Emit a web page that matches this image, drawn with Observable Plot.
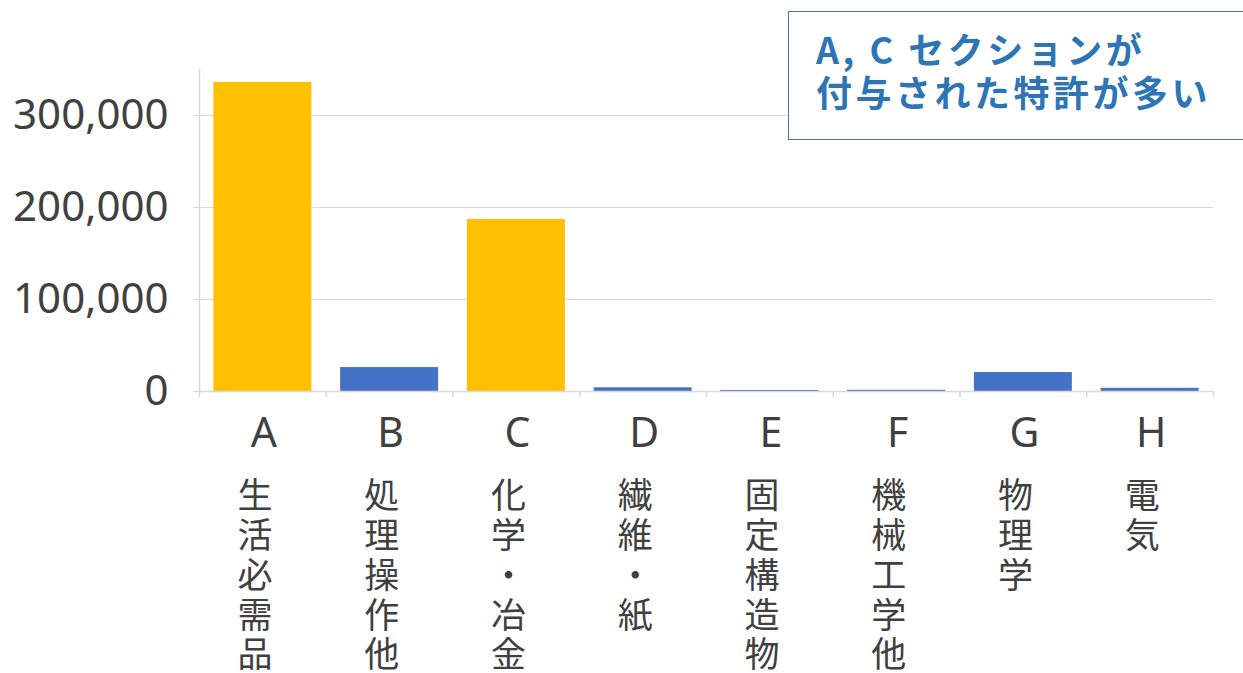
<!DOCTYPE html>
<html>
<head>
<meta charset="utf-8">
<script src="https://cdn.jsdelivr.net/npm/d3@7"></script>
<script src="https://cdn.jsdelivr.net/npm/@observablehq/plot@0.6"></script>
<style>
  html, body { margin: 0; padding: 0; background: #fff; }
  #wrap { position: relative; width: 1243px; height: 673px; overflow: hidden; }
  #note {
    position: absolute; left: 788px; top: 11px; width: 480px; height: 127px;
    border: 1.5px solid #4472C4; background: #fff; box-sizing: content-box;
    font-family: "Noto Sans CJK JP", "Noto Sans", sans-serif; font-weight: bold;
    font-size: 36px; line-height: 43px; color: #2E75B6; letter-spacing: 3.5px;
  }
  #note div { position: absolute; left: 27px; top: 15px; white-space: nowrap; }
</style>
</head>
<body>
<div id="wrap">
  <div id="chart"></div>
  <div id="note"><div>A, C セクションが<br>付与された特許が多い</div></div>
</div>
<script>
const categories = ["A", "B", "C", "D", "E", "F", "G", "H"];
const sectionNames = ["生活必需品", "処理操作他", "化学・冶金", "繊維・紙", "固定構造物", "機械工学他", "物理学", "電気"];
const patentCounts = [336000, 26000, 187000, 4000, 1100, 1300, 20600, 3500];
const highlighted = ["A", "C"];
const yTicks = [0, 100000, 200000, 300000];

const data = categories.map((c, i) => ({
  cat: c,
  name: sectionNames[i],
  value: patentCounts[i],
  hl: highlighted.includes(c) ? "hl" : "other"
}));

const step = (1213 - 199) / categories.length;
const gray = "#d9d9d9";
const textColor = "#404040";

const chart = Plot.plot({
  width: 1243,
  height: 673,
  marginLeft: 199,
  marginRight: 30,
  marginTop: 69,
  marginBottom: 282,
  style: { fontFamily: "'Noto Sans', sans-serif", color: textColor, background: "#fff" },
  x: { domain: categories, paddingInner: 0.227, paddingOuter: 0.1135, align: 0.5, round: false },
  y: { domain: [0, 350000] },
  color: { domain: ["hl", "other"], range: ["#FFC000", "#4472C4"] },
  marks: [
    Plot.gridY(yTicks, { stroke: gray, strokeOpacity: 1, strokeWidth: 1 }),
    Plot.frame({ anchor: "left", stroke: gray, strokeWidth: 1.5 }),
    Plot.barY(data, { x: "cat", y: "value", fill: "hl" }),
    Plot.ruleY([0], { stroke: gray, strokeWidth: 1.5 }),
    Plot.ruleX(categories, { x: d => d, y1: 0, y2: 0, dx: -step / 2, dy: 3, insetTop: -3, insetBottom: -3, stroke: gray, strokeWidth: 1.5 }),
    Plot.ruleX([categories[categories.length - 1]], { x: d => d, y1: 0, y2: 0, dx: step / 2, dy: 3, insetTop: -3, insetBottom: -3, stroke: gray, strokeWidth: 1.5 }),
    Plot.axisY(yTicks, {
      tickFormat: d3.format(","), tickSize: 6, tickPadding: 25,
      stroke: gray, fontSize: 42, fill: textColor, label: null
    }),
    Plot.axisX({
      tickSize: 0, tickPadding: 26, fontSize: 41, fill: textColor, label: null, dx: 1
    }),
    Plot.text(data, {
      x: "cat", y: 0, text: d => Array.from(d.name).join("\n"),
      lineAnchor: "top", textAnchor: "middle", dy: 88, dx: -8,
      lineHeight: 1.14, fontSize: 35, fill: textColor,
      fontFamily: "'Noto Sans CJK JP', sans-serif"
    })
  ]
});
document.getElementById("chart").appendChild(chart);
</script>
</body>
</html>
